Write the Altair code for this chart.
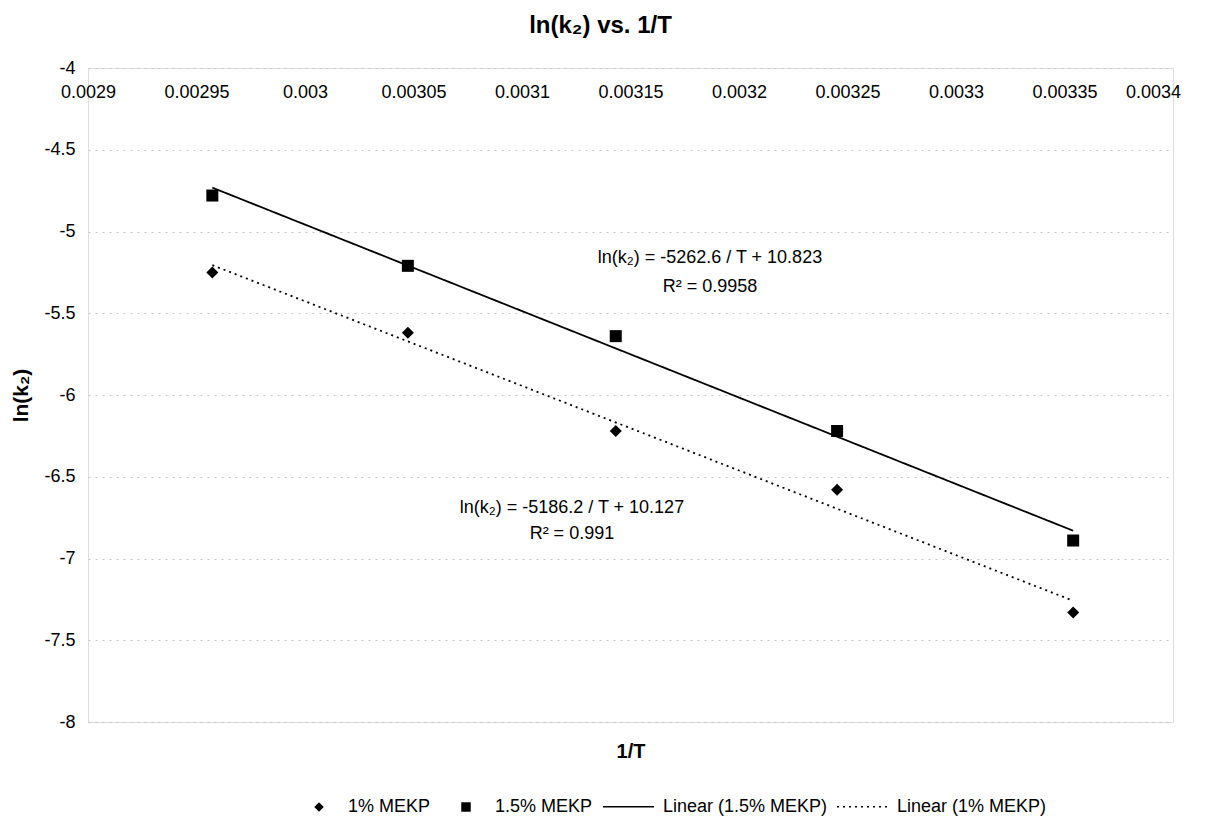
import altair as alt
import pandas as pd

# ---- data ----
inv_T = [0.0029573, 0.0030474, 0.0031432, 0.0032452, 0.0033540]
lnk2_1pct = [-5.25, -5.62, -6.22, -6.58, -7.33]
lnk2_15pct = [-4.78, -5.21, -5.64, -6.22, -6.89]
series_names = ["1% MEKP", "1.5% MEKP"]
trend_names = ["Linear (1.5% MEKP)", "Linear (1% MEKP)"]
x_ticks = [0.0029, 0.00295, 0.003, 0.00305, 0.0031, 0.00315, 0.0032,
           0.00325, 0.0033, 0.00335, 0.0034]
y_ticks = [-4, -4.5, -5, -5.5, -6, -6.5, -7, -7.5, -8]
eq_labels = ["ln(k₂) = -5262.6 / T + 10.823", "R² = 0.9958",
             "ln(k₂) = -5186.2 / T + 10.127", "R² = 0.991"]
eq_x = [0.0031866, 0.0031866, 0.003123, 0.003123]
eq_y = [-5.162, -5.339, -6.691, -6.850]

rows = []
for xv, yv in zip(inv_T, lnk2_1pct):
    rows.append({"x": xv, "y": yv, "series": series_names[0]})
for xv, yv in zip(inv_T, lnk2_15pct):
    rows.append({"x": xv, "y": yv, "series": series_names[1]})
df = pd.DataFrame(rows)
eq_df = pd.DataFrame({"x": eq_x, "y": eq_y, "label": eq_labels})

FONT = "Liberation Sans"
W, H = 1085, 654

xs = alt.Scale(domain=[0.0029, 0.0034], nice=False, zero=False)
ys = alt.Scale(domain=[-8, -4], nice=False, zero=False)

y_axis = alt.Axis(values=y_ticks, labelExpr="'' + datum.value", title="ln(k₂)",
                  titleX=-67, titleY=H / 2, titleAngle=270, titleAlign="center",
                  titleBaseline="middle", titleFontSize=21, titleFontWeight="bold",
                  titleFont=FONT, titleColor="black", labelFont=FONT, labelFontSize=18,
                  labelColor="black", labelPadding=13, ticks=False, domain=False,
                  grid=True, gridColor="#c4c4c4", gridDash=[2, 5], gridWidth=1,
                  labelOverlap=False)

x_axis_top = alt.Axis(orient="bottom", offset=-H, values=x_ticks,
                      labelExpr="'' + datum.value", title=None, labelFont=FONT,
                      labelFontSize=18, labelColor="black", labelPadding=15,
                      labelOffset=alt.condition("datum.value >= 0.0034", alt.value(-20), alt.value(0)),
                      ticks=False, domain=False, grid=False, labelOverlap=False,
                      labelFlush=False)

x_axis_title = alt.Axis(orient="bottom", title="1/T", labels=False, ticks=False,
                        domain=False, grid=False, titleFont=FONT, titleFontSize=20,
                        titleFontWeight="bold", titleColor="black", titlePadding=19)

points = alt.Chart(df).mark_point(filled=True, size=144, opacity=1, color="black").encode(
    x=alt.X("x:Q", scale=xs, axis=x_axis_top),
    y=alt.Y("y:Q", scale=ys, axis=y_axis),
    shape=alt.Shape("series:N",
                    scale=alt.Scale(domain=series_names, range=["diamond", "square"]),
                    legend=alt.Legend(orient="none", legendX=222, legendY=730,
                                      direction="horizontal", title=None,
                                      labelFont=FONT, labelFontSize=18,
                                      labelColor="black", symbolSize=90,
                                      symbolFillColor="black", symbolStrokeColor="black",
                                      symbolStrokeWidth=0, labelOffset=20,
                                      columnPadding=26, padding=0, labelLimit=300)),
)

lines = alt.Chart(df).transform_regression(
    "x", "y", groupby=["series"]
).transform_calculate(
    trend="'Linear (' + datum.series + ')'"
).mark_line(color="black", strokeWidth=1.8).encode(
    x=alt.X("x:Q", scale=xs, axis=x_axis_title),
    y=alt.Y("y:Q", scale=ys, axis=y_axis),
    strokeDash=alt.StrokeDash("trend:N",
                              scale=alt.Scale(domain=trend_names, range=[[1, 0], [2, 4]]),
                              legend=alt.Legend(orient="none", legendX=514, legendY=712,
                                                direction="horizontal", title=None,
                                                labelFont=FONT, labelFontSize=18,
                                                labelColor="black", symbolType="stroke",
                                                symbolSize=2600, symbolStrokeColor="black",
                                                symbolStrokeWidth=1.5, labelOffset=8,
                                                columnPadding=6, padding=0,
                                                labelLimit=300)),
)

texts = alt.Chart(eq_df).mark_text(font=FONT, fontSize=18, color="black",
                                   align="center", baseline="middle").encode(
    x=alt.X("x:Q", scale=xs, axis=None),
    y=alt.Y("y:Q", scale=ys, axis=y_axis),
    text="label:N",
)

chart = alt.layer(points, lines, texts).resolve_axis(x="independent").properties(
    width=W, height=H, autosize="none",
    padding={"left": 80, "top": 60, "right": 25, "bottom": 95},
    title=alt.TitleParams(text="ln(k₂) vs. 1/T", font=FONT, fontSize=24,
                          fontWeight="bold", color="black", dx=-30, offset=21,
                          anchor="middle"),
).configure_view(stroke="#999999", strokeWidth=1).configure(background="white")

chart.save("out.html", embed_options={"renderer": "svg", "actions": False})
